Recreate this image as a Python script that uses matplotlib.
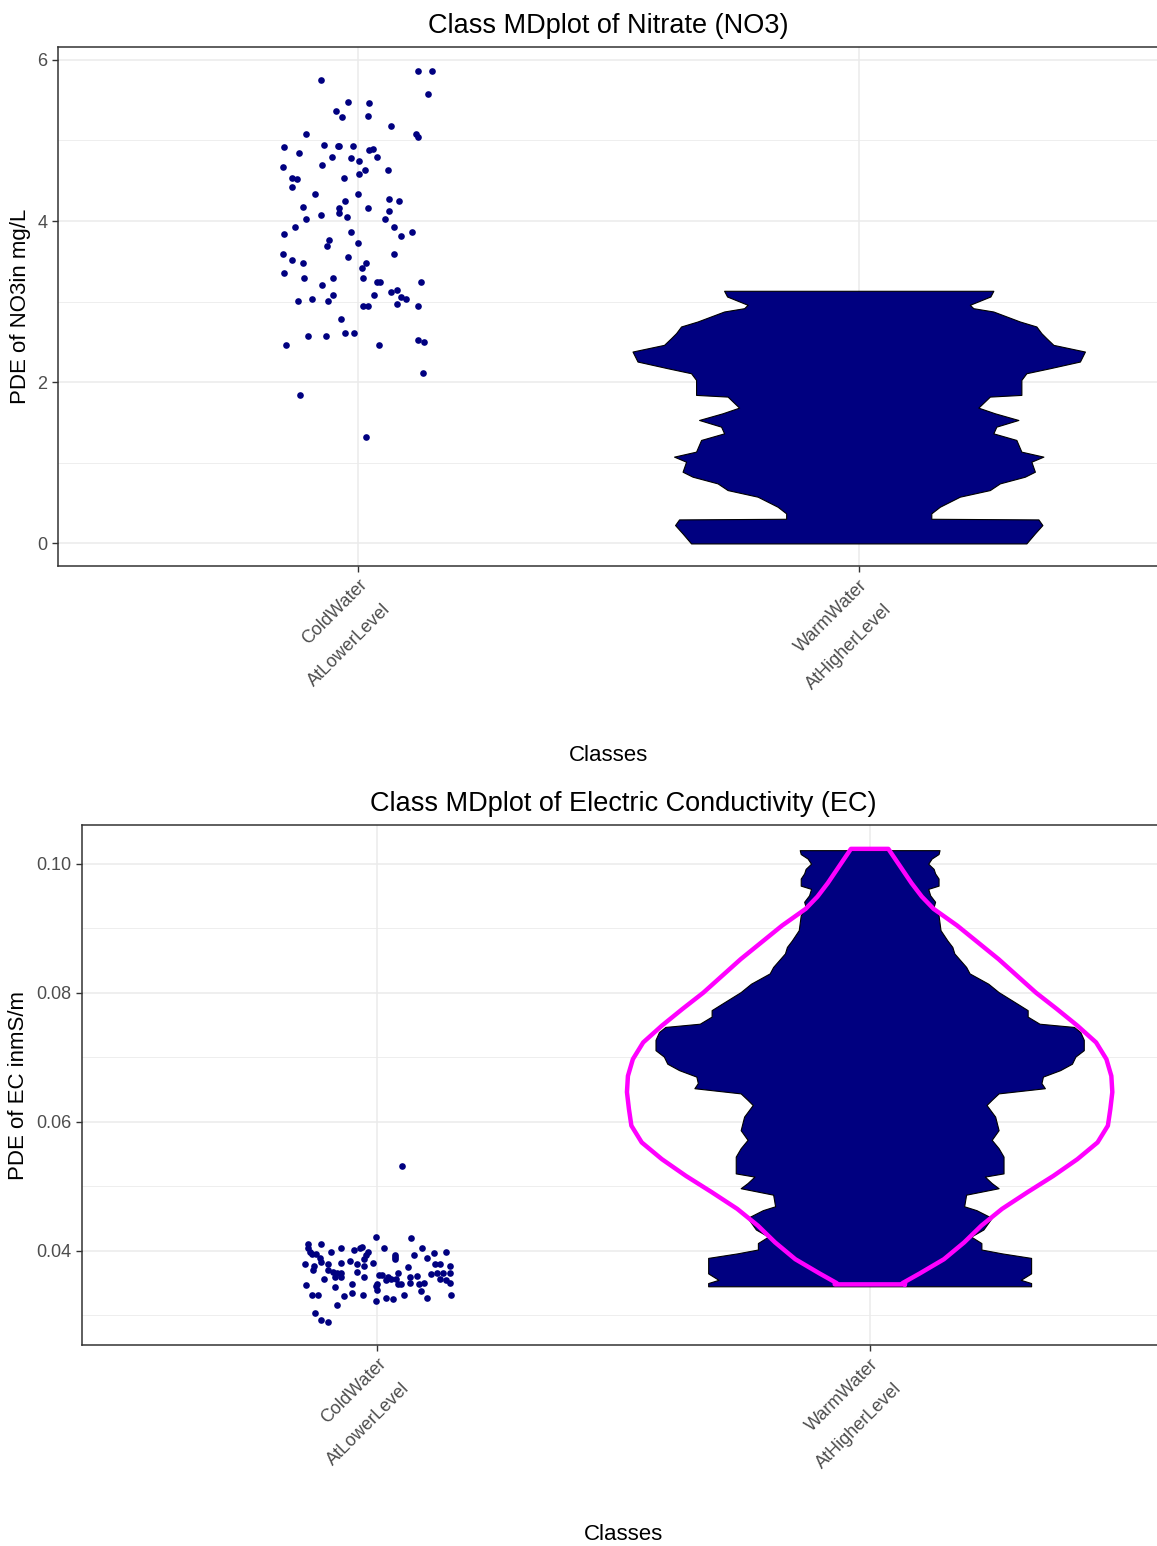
import numpy as np
import matplotlib
matplotlib.use("Agg")
import matplotlib.pyplot as plt

plt.rcParams['font.family'] = ['Liberation Sans', 'DejaVu Sans']

NAVY = '#000080'
GRID = '#EBEBEB'
TICKC = '#4D4D4D'

classes = ['ColdWater\nAtLowerLevel', 'WarmWater\nAtHigherLevel']

# --- Nitrate: ColdWater points (jitter offset, value)
no3_cold_jitter = [-0.075, 0.12, 0.147, 0.14, -0.02, 0.022, -0.045, 0.019, -0.033, 0.065,
                   -0.105, 0.115, 0.119, -0.148, -0.068, -0.041, -0.038, -0.011, -0.118, 0.022,
                   0.029, -0.053, 0.037, -0.014, 0.001, -0.151, -0.072, 0.013, 0.059, -0.133,
                   -0.123, 0.001, -0.029, -0.133, -0.087, -0.001, 0.062, 0.081, -0.026, -0.111,
                   -0.038, 0.019, -0.038, -0.075, 0.062, -0.105, -0.023, 0.053, -0.127, 0.071,
                   -0.148, -0.015, 0.107, 0.085, -0.059, -0.063, -0.001, -0.151, 0.071, -0.133,
                   -0.02, -0.111, 0.016, 0.007, -0.148, -0.108, -0.051, 0.01, -0.072, 0.037,
                   0.044, 0.125, 0.065, 0.077, -0.051, 0.031, 0.086, 0.095, -0.12, -0.093,
                   -0.06, 0.01, 0.019, 0.077, 0.119, -0.035, -0.026, -0.008, -0.101, -0.065,
                   0.119, 0.131, -0.145, 0.041, 0.129, -0.117, 0.016]
no3_cold_values = [5.75, 5.86, 5.86, 5.58, 5.48, 5.46, 5.37, 5.31, 5.29, 5.18,
                   5.08, 5.08, 5.04, 4.92, 4.95, 4.93, 4.93, 4.93, 4.84, 4.88,
                   4.89, 4.80, 4.80, 4.78, 4.75, 4.67, 4.69, 4.63, 4.63, 4.54,
                   4.52, 4.58, 4.54, 4.42, 4.33, 4.33, 4.28, 4.25, 4.25, 4.18,
                   4.16, 4.16, 4.10, 4.08, 4.12, 4.03, 4.05, 4.03, 3.93, 3.93,
                   3.84, 3.86, 3.87, 3.82, 3.76, 3.69, 3.73, 3.59, 3.59, 3.52,
                   3.55, 3.48, 3.48, 3.42, 3.35, 3.29, 3.29, 3.29, 3.21, 3.25,
                   3.24, 3.24, 3.12, 3.14, 3.08, 3.08, 3.06, 3.03, 3.01, 3.03,
                   3.01, 2.95, 2.95, 2.97, 2.95, 2.78, 2.61, 2.61, 2.57, 2.57,
                   2.53, 2.50, 2.46, 2.46, 2.12, 1.84, 1.32]

# --- Nitrate: WarmWater PDE violin (value, half width)
no3_warm_y = [0.0, 0.124, 0.228, 0.298, 0.306, 0.373, 0.455, 0.580, 0.662, 0.745,
              0.828, 0.890, 1.014, 1.077, 1.139, 1.284, 1.366, 1.449, 1.532, 1.615,
              1.685, 1.822, 1.843, 2.029, 2.112, 2.174, 2.257, 2.381, 2.464, 2.547,
              2.609, 2.692, 2.754, 2.878, 2.919, 2.961, 3.064, 3.135]
no3_warm_w = [0.335, 0.352, 0.367, 0.359, 0.145, 0.145, 0.162, 0.202, 0.262, 0.282,
              0.332, 0.352, 0.345, 0.369, 0.325, 0.315, 0.269, 0.275, 0.319, 0.272,
              0.239, 0.262, 0.325, 0.325, 0.335, 0.382, 0.442, 0.452, 0.389, 0.375,
              0.365, 0.355, 0.322, 0.269, 0.229, 0.222, 0.263, 0.269]

# --- EC: ColdWater points
ec_cold_jitter = [0.051, -0.002, 0.069, -0.141, -0.114, -0.141, -0.073, 0.014, 0.091, -0.047,
                  -0.036, -0.032, -0.137, -0.095, -0.020, 0.140, 0.115, -0.133, -0.125, 0.035,
                  0.075, -0.024, 0.035, 0.100, -0.116, -0.027, 0.035, -0.055, -0.115, -0.008,
                  -0.148, -0.073, -0.042, -0.101, 0.118, 0.128, -0.128, -0.027, 0.147, 0.063,
                  -0.130, -0.100, -0.090, -0.042, -0.081, -0.074, 0.108, 0.122, 0.134, 0.147,
                  0.003, 0.010, 0.041, -0.086, -0.074, -0.027, 0.022, 0.066, 0.081, 0.027,
                  0.037, 0.128, 0.139, -0.108, 0.017, 0.000, 0.041, 0.047, 0.066, 0.084,
                  0.095, 0.148, -0.051, -0.086, -0.145, -0.003, 0.000, 0.088, -0.052, -0.133,
                  -0.120, -0.030, 0.054, 0.150, -0.068, 0.018, 0.032, 0.100, -0.002, -0.082,
                  -0.126, -0.114, -0.100]
ec_cold_values = [0.0531, 0.0422, 0.0420, 0.0411, 0.0411, 0.0404, 0.0404, 0.0404, 0.0404, 0.0402,
                  0.0405, 0.0406, 0.0398, 0.0398, 0.0398, 0.0398, 0.0396, 0.0395, 0.0395, 0.0394,
                  0.0394, 0.0393, 0.0391, 0.0389, 0.0389, 0.0388, 0.0387, 0.0384, 0.0382, 0.0381,
                  0.0379, 0.0381, 0.0379, 0.0379, 0.0379, 0.0379, 0.0377, 0.0376, 0.0377, 0.0375,
                  0.0371, 0.0371, 0.0367, 0.0367, 0.0366, 0.0365, 0.0364, 0.0365, 0.0366, 0.0365,
                  0.0363, 0.0363, 0.0365, 0.0360, 0.0360, 0.0359, 0.0359, 0.0359, 0.0361, 0.0356,
                  0.0356, 0.0357, 0.0355, 0.0356, 0.0355, 0.0349, 0.0349, 0.0349, 0.0350, 0.0349,
                  0.0350, 0.0350, 0.0348, 0.0344, 0.0347, 0.0345, 0.0339, 0.0338, 0.0335, 0.0332,
                  0.0332, 0.0332, 0.0332, 0.0332, 0.0330, 0.0327, 0.0326, 0.0327, 0.0322, 0.0316,
                  0.0304, 0.0293, 0.0290]

# --- EC: WarmWater PDE violin
ec_warm_y = [0.0345, 0.0350, 0.0355, 0.0365, 0.0389, 0.0396, 0.0402, 0.0412, 0.0422, 0.0433,
             0.0451, 0.0463, 0.0469, 0.0487, 0.0497, 0.0505, 0.0515, 0.0520, 0.0546, 0.0559,
             0.0572, 0.0587, 0.0608, 0.0626, 0.0634, 0.0644, 0.0652, 0.0660, 0.0670, 0.0680,
             0.0690, 0.0701, 0.0711, 0.0727, 0.0739, 0.0747, 0.0752, 0.0763, 0.0773, 0.0783,
             0.0801, 0.0814, 0.0830, 0.0840, 0.0861, 0.0871, 0.0881, 0.0897, 0.0920, 0.0933,
             0.0941, 0.0951, 0.0961, 0.0966, 0.0977, 0.0985, 0.0992, 0.1000, 0.1008, 0.1015,
             0.1021]
ec_warm_w = [0.328, 0.328, 0.307, 0.328, 0.328, 0.269, 0.227, 0.227, 0.206, 0.231,
             0.248, 0.217, 0.192, 0.196, 0.262, 0.248, 0.234, 0.272, 0.272, 0.262,
             0.248, 0.262, 0.255, 0.2375, 0.248, 0.262, 0.356, 0.349, 0.352, 0.387,
             0.411, 0.418, 0.435, 0.435, 0.428, 0.415, 0.345, 0.321, 0.321, 0.300,
             0.262, 0.241, 0.203, 0.196, 0.172, 0.168, 0.158, 0.144, 0.140, 0.130,
             0.133, 0.123, 0.119, 0.140, 0.140, 0.133, 0.130, 0.119, 0.126, 0.140,
             0.142]

# --- EC: Gaussian reference outline
ec_gauss_y = [0.0348, 0.0350, 0.0365, 0.0387, 0.0413, 0.0439, 0.0465, 0.0491, 0.0516, 0.0542,
              0.0568, 0.0594, 0.0620, 0.0646, 0.0671, 0.0697, 0.0723, 0.0749, 0.0775, 0.0800,
              0.0826, 0.0852, 0.0878, 0.0904, 0.0930, 0.0949, 0.0970, 0.1023]
ec_gauss_w = [0.071, 0.067, 0.102, 0.151, 0.192, 0.227, 0.269, 0.321, 0.373, 0.422,
              0.463, 0.484, 0.489, 0.493, 0.491, 0.481, 0.460, 0.422, 0.380, 0.338,
              0.300, 0.262, 0.220, 0.178, 0.130, 0.106, 0.085, 0.038]


def style_axes(ax, ylim, yticks, yminor, ylabel, title, fmt):
    ax.set_xlim(0.4, 2.6)
    ax.set_ylim(*ylim)
    ax.set_xticks([1, 2])
    ax.set_xticklabels(classes, rotation=45, ha='right', va='top',
                       rotation_mode='anchor', fontsize=13, color=TICKC,
                       linespacing=2.3)
    ax.set_yticks(yticks)
    ax.set_yticklabels([fmt.format(v) for v in yticks], fontsize=13, color=TICKC)
    ax.set_yticks(yminor, minor=True)
    ax.tick_params(axis='y', which='minor', length=0)
    ax.tick_params(which='major', length=4, color='#333333', width=1)
    ax.grid(True, which='major', color=GRID, lw=1.1, zorder=0)
    ax.grid(True, which='minor', axis='y', color=GRID, lw=0.6, zorder=0)
    ax.set_axisbelow(True)
    for s in ax.spines.values():
        s.set_color('#333333')
        s.set_linewidth(1.1)
    ax.set_ylabel(ylabel, fontsize=16, labelpad=5)
    ax.set_xlabel('Classes', fontsize=16, labelpad=38)
    ax.set_title(title, fontsize=19.5, pad=10)


fig = plt.figure(figsize=(11.57, 15.46), dpi=100)

# top panel
ax1 = fig.add_axes([58 / 1157, 1 - 566 / 1546, (1159 - 58) / 1157, (566 - 47) / 1546])
ax1.plot(1 + np.array(no3_cold_jitter), no3_cold_values, 'o', color=NAVY, ms=4.8, mew=0, zorder=3)
y = np.array(no3_warm_y)
w = np.array(no3_warm_w)
ax1.fill_betweenx(y, 2 - w, 2 + w, facecolor=NAVY, edgecolor='black', lw=0.8, zorder=2)
style_axes(ax1, (-0.28, 6.16), [0, 2, 4, 6], [1, 3, 5], 'PDE of NO3in mg/L',
           'Class MDplot of Nitrate (NO3)', '{:g}')

# bottom panel
ax2 = fig.add_axes([82 / 1157, 1 - 1345 / 1546, (1165 - 82) / 1157, (1345 - 825) / 1546])
ax2.plot(1 + np.array(ec_cold_jitter), ec_cold_values, 'o', color=NAVY, ms=4.8, mew=0, zorder=3)
y = np.array(ec_warm_y)
w = np.array(ec_warm_w)
ax2.fill_betweenx(y, 2 - w, 2 + w, facecolor=NAVY, edgecolor='black', lw=0.8, zorder=2)
gy = np.array(ec_gauss_y)
gw = np.array(ec_gauss_w)
ax2.plot(np.concatenate([2 + gw, (2 - gw)[::-1], [2 + gw[0]]]),
         np.concatenate([gy, gy[::-1], [gy[0]]]),
         color='#FF00FF', lw=3.2, zorder=4)
style_axes(ax2, (0.0254, 0.1060), [0.04, 0.06, 0.08, 0.10], [0.03, 0.05, 0.07, 0.09],
           'PDE of EC inmS/m', 'Class MDplot of Electric Conductivity (EC)', '{:.2f}')

fig.savefig('out.png', dpi=100)
